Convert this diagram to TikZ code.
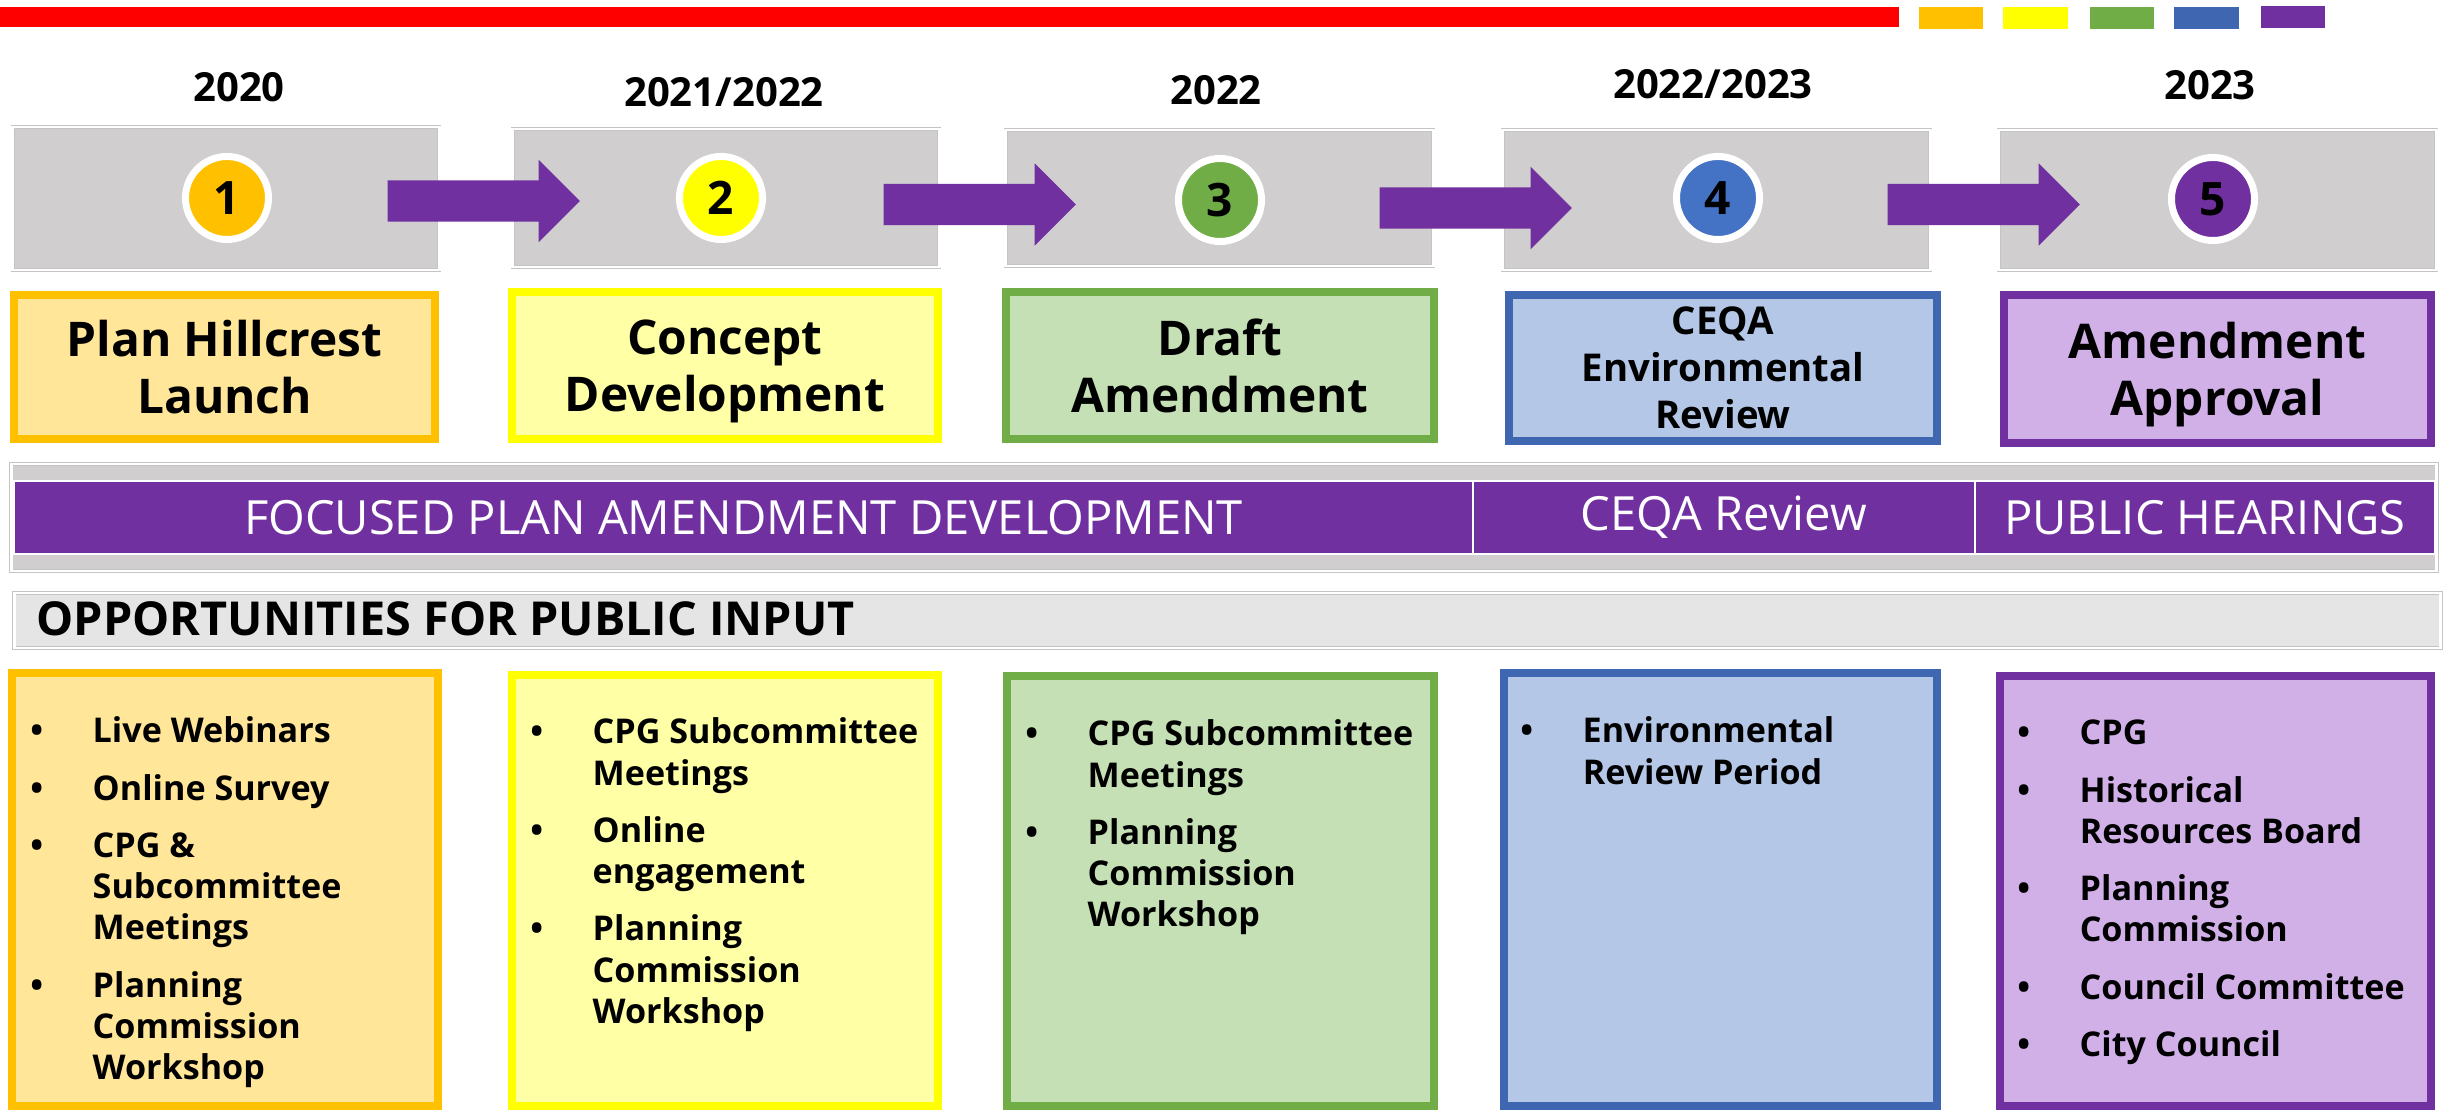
\documentclass[tikz,border=0pt]{standalone}
\usepackage{fontspec}
\setmainfont{Open Sans}
\usetikzlibrary{positioning, shapes.arrows}
\definecolor{clrred}{HTML}{FF0000}
\definecolor{clrorange}{HTML}{FFC000}
\definecolor{clryellow}{HTML}{FFFF00}
\definecolor{clrgreen}{HTML}{70AD47}
\definecolor{clrblue}{HTML}{4472C4}
\definecolor{clrblueedge}{HTML}{3F66B0}
\definecolor{clrpurple}{HTML}{7030A0}
\definecolor{clrorangefill}{HTML}{FFE699}
\definecolor{clryellowfill}{HTML}{FFFFA6}
\definecolor{clrgreenfill}{HTML}{C5E0B4}
\definecolor{clrbluefill}{HTML}{B4C7E7}
\definecolor{clrpurplefill}{HTML}{D1B0E8}
\definecolor{clrstep}{HTML}{D0CECE}
\definecolor{clrinput}{HTML}{E5E5E5}
\definecolor{clrframe}{HTML}{C4C4C4}
\definecolor{clrtext}{HTML}{000000}
\newcommand{\blt}{\makebox[0.24cm]{\textbullet}\hspace{0.44cm}}
\newcommand{\cnt}{\hspace{0.68cm}}
\newcommand{\nodepth}[1]{\raisebox{0pt}[\height][0pt]{#1}}

\begin{document}
\begin{tikzpicture}[
    x=0.01cm, y=-0.01cm,
    every node/.style={inner sep=0pt, text=clrtext},
    stepbox/.style={draw=clrframe, double=white, line width=0.2pt, double distance=0.8pt, fill=clrstep},
    numdot/.style={circle, draw=white, line width=0.07cm, minimum size=0.83cm,
                   font=\fontsize{13.1pt}{15pt}\selectfont\bfseries},
    yearlabel/.style={anchor=base, font=\fontsize{11.4pt}{13pt}\selectfont\bfseries},
    flowarrow/.style={single arrow, anchor=tail, fill=clrpurple, minimum height=1.92cm, inner ysep=0.20cm,
                      single arrow head extend=0.205cm},
    titlebox/.style={line width=0.08cm, align=center, font=\fontsize{13.6pt}{16.2pt}\selectfont\bfseries},
    phasebar/.style={fill=clrpurple, draw=white, line width=0.02cm, minimum height=0.73cm, text=white,
                     font=\fontsize{13.4pt}{16pt}\selectfont},
    inputbox/.style={line width=0.08cm},
    inputlist/.style={anchor=base west, font=\fontsize{9.7pt}{11.7pt}\selectfont\bfseries},
    swatch/.style={minimum width=0.64cm, minimum height=0.22cm},
]
\useasboundingbox (0,0) rectangle (2447,1110);
% header rule and colour key
\node[fill=clrred, minimum width=18.98cm, minimum height=0.20cm] (hdr_rule) at (949,17) {};
\node[swatch, fill=clrorange] (key_1) at (1951,18) {};
\node[swatch, fill=clryellow] (key_2) at (2035.5,18) {};
\node[swatch, fill=clrgreen] (key_3) at (2122,18) {};
\node[swatch, fill=clrblueedge] (key_4) at (2206.5,18) {};
\node[swatch, fill=clrpurple] (key_5) at (2293,17) {};
% years
\node[yearlabel] (yr_1) at (239,102) {2020};
\node[yearlabel] (yr_2) at (724,107) {2021/2022};
\node[yearlabel] (yr_3) at (1216,105) {2022};
\node[yearlabel] (yr_4) at (1713,99) {2022/2023};
\node[yearlabel] (yr_5) at (2210,100) {2023};
% steps
\node[stepbox, minimum width=4.26cm, minimum height=1.43cm] (stp_1) at (226,198.5) {};
\node[stepbox, minimum width=4.26cm, minimum height=1.38cm] (stp_2) at (726,198) {};
\node[stepbox, minimum width=4.27cm, minimum height=1.36cm] (stp_3) at (1219.5,198) {};
\node[stepbox, minimum width=4.27cm, minimum height=1.40cm] (stp_4) at (1716.5,200) {};
\node[stepbox, minimum width=4.37cm, minimum height=1.40cm] (stp_5) at (2217.5,200) {};
\node[numdot, fill=clrorange] (num_1) at (227,198) {1};
\node[numdot, fill=clryellow] (num_2) at (721,198) {2};
\node[numdot, fill=clrgreen] (num_3) at (1220,200) {3};
\node[numdot, fill=clrblue] (num_4) at (1718,198) {4};
\node[numdot, fill=clrpurple] (num_5) at (2213,199) {5};
\node[flowarrow] (arw_1) at (387,201) {};
\node[flowarrow] (arw_2) at (883,204.5) {};
\node[flowarrow] (arw_3) at (1379,208) {};
\node[flowarrow] (arw_4) at (1887,204.5) {};
% step titles
\node[titlebox, draw=clrorange, fill=clrorangefill, minimum width=4.21cm, minimum height=1.44cm] (ttl_1) at (224.5,367) {Plan Hillcrest\\Launch};
\node[titlebox, draw=clryellow, fill=clryellowfill, minimum width=4.26cm, minimum height=1.47cm] (ttl_2) at (725,365.5) {Concept\\\nodepth{Development}};
\node[titlebox, draw=clrgreen, fill=clrgreenfill, minimum width=4.28cm, minimum height=1.47cm] (ttl_3) at (1220,365.5) {Draft\\Amendment};
\node[titlebox, draw=clrblueedge, fill=clrbluefill, minimum width=4.28cm, minimum height=1.46cm,
      font=\fontsize{10.9pt}{13.4pt}\selectfont\bfseries] (ttl_4) at (1723,368) {CEQA\\Environmental\\Review};
\node[titlebox, draw=clrpurple, fill=clrpurplefill, minimum width=4.27cm, minimum height=1.48cm] (ttl_5) at (2217.5,369) {Amendment\\\nodepth{Approval}};
% phases
\node[stepbox, minimum width=24.24cm, minimum height=1.07cm] (phs_strip) at (1224,517.5) {};
\node[phasebar, minimum width=14.59cm] (phs_1) at (743.5,517.5) {FOCUSED PLAN AMENDMENT DEVELOPMENT};
\node[phasebar, minimum width=5.02cm] (phs_2) at (1724,517.5) {CEQA Review};
\node[phasebar, minimum width=4.60cm] (phs_3) at (2205,517.5) {PUBLIC HEARINGS};
% public input
\node[stepbox, fill=clrinput, minimum width=24.25cm, minimum height=0.55cm] (inp_strip) at (1227.5,620.5) {};
\node[anchor=base west, font=\fontsize{13.3pt}{16pt}\selectfont\bfseries] (inp_head) at (36,636) {OPPORTUNITIES FOR PUBLIC INPUT};
\node[inputbox, draw=clrorange, fill=clrorangefill, minimum width=4.26cm, minimum height=4.33cm] (inp_1) at (225,889.5) {};
\node[inputbox, draw=clryellow, fill=clryellowfill, minimum width=4.26cm, minimum height=4.31cm] (inp_2) at (725,890.5) {};
\node[inputbox, draw=clrgreen, fill=clrgreenfill, minimum width=4.27cm, minimum height=4.30cm] (inp_3) at (1220.5,891) {};
\node[inputbox, draw=clrblueedge, fill=clrbluefill, minimum width=4.33cm, minimum height=4.33cm] (inp_4) at (1720.5,889.5) {};
\node[inputbox, draw=clrpurple, fill=clrpurplefill, minimum width=4.31cm, minimum height=4.30cm] (inp_5) at (2215.5,891) {};
\node[inputlist] (lst_1) at (24,743) {\begin{tabular}[t]{@{}l@{}}
  \blt Live Webinars\\[4.6pt] \blt Online Survey\\[4.6pt] \blt CPG \&\\ \cnt Subcommittee\\ \cnt Meetings\\[4.6pt]
  \blt Planning\\ \cnt Commission\\ \cnt Workshop\end{tabular}};
\node[inputlist] (lst_2) at (524,744) {\begin{tabular}[t]{@{}l@{}}
  \blt CPG Subcommittee\\ \cnt Meetings\\[4.6pt] \blt Online\\ \cnt engagement\\[4.6pt]
  \blt Planning\\ \cnt Commission\\ \cnt Workshop\end{tabular}};
\node[inputlist] (lst_3) at (1019,746) {\begin{tabular}[t]{@{}l@{}}
  \blt CPG Subcommittee\\ \cnt Meetings\\[4.6pt] \blt Planning\\ \cnt Commission\\ \cnt Workshop\end{tabular}};
\node[inputlist] (lst_4) at (1514,743) {\begin{tabular}[t]{@{}l@{}}
  \blt Environmental\\ \cnt Review Period\end{tabular}};
\node[inputlist] (lst_5) at (2011,745) {\begin{tabular}[t]{@{}l@{}}
  \blt CPG\\[4.6pt] \blt Historical\\ \cnt Resources Board\\[4.6pt] \blt Planning\\ \cnt Commission\\[4.6pt]
  \blt Council Committee\\[4.6pt] \blt City Council\end{tabular}};
\end{tikzpicture}
\end{document}
